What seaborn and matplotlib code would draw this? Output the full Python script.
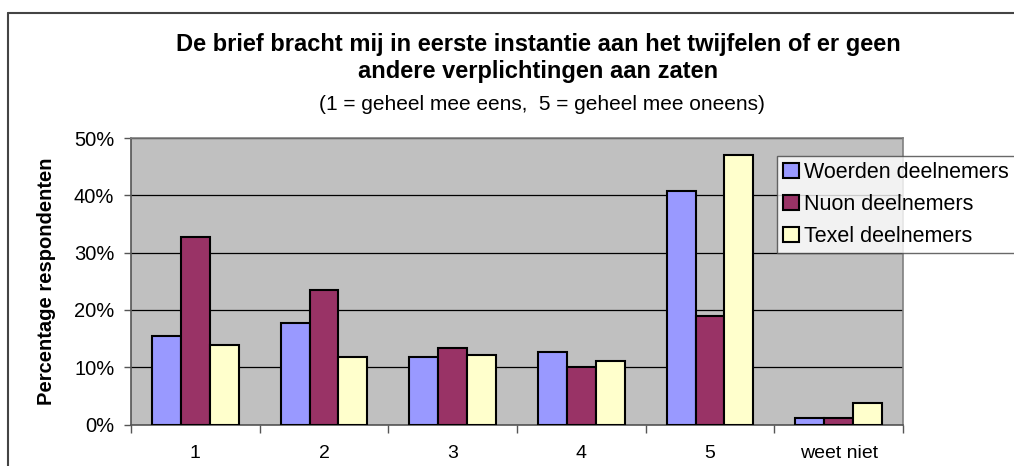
import pandas as pd
import matplotlib
matplotlib.use("Agg")
import matplotlib.pyplot as plt
import seaborn as sns
from matplotlib.ticker import PercentFormatter, FixedLocator

categories = ["1", "2", "3", "4", "5", "weet niet"]
series_names = ["Woerden deelnemers", "Nuon deelnemers", "Texel deelnemers"]
woerden = [15.5, 17.7, 11.7, 12.7, 40.8, 1.2]
nuon = [32.8, 23.5, 13.3, 10.1, 18.9, 1.1]
texel = [13.8, 11.8, 12.1, 11.1, 47.1, 3.7]
colors = ["#9999ff", "#993366", "#ffffcc"]

title = "De brief bracht mij in eerste instantie aan het twijfelen of er geen\nandere verplichtingen aan zaten"
subtitle = "(1 = geheel mee eens,  5 = geheel mee oneens)"

df = pd.DataFrame({
    "categorie": categories * 3,
    "groep": sum([[s] * len(categories) for s in series_names], []),
    "waarde": woerden + nuon + texel,
})

sns.set_theme(style="white")
plt.rcParams["font.family"] = ["Liberation Sans", "DejaVu Sans"]

fig = plt.figure(figsize=(10.14, 4.66), dpi=100)
ax = fig.add_axes([131 / 1014, 1 - 424.5 / 466, (903 - 131) / 1014, (424.5 - 138) / 466])

sns.barplot(data=df, x="categorie", y="waarde", hue="groep", palette=colors,
            width=0.674, edgecolor="black", linewidth=1.5, saturation=1,
            ax=ax, legend=False, zorder=3)

ax.set_facecolor("#c0c0c0")
ax.set_ylim(0, 50)
ax.set_xlim(-0.5, len(categories) - 0.5)
ax.yaxis.set_major_locator(FixedLocator([0, 10, 20, 30, 40, 50]))
ax.yaxis.set_major_formatter(PercentFormatter(decimals=0))
ax.yaxis.grid(True, color="black", linewidth=0.9, zorder=0)
ax.set_axisbelow(True)
for side in ["top", "right"]:
    ax.spines[side].set_color("#808080")
    ax.spines[side].set_linewidth(1.2)
for side in ["left", "bottom"]:
    ax.spines[side].set_color("#555555")
    ax.spines[side].set_linewidth(1.2)

ax.tick_params(axis="y", left=True, length=5, width=1, color="#555555", labelsize=14.5,
               pad=7, labelcolor="black")
ax.tick_params(axis="x", bottom=False, labelsize=14, pad=9, labelcolor="black")
ax.set_xticks(range(len(categories)))
ax.set_xticklabels(categories)
ax.set_xticks([i + 0.5 for i in range(-1, len(categories))], minor=True)
ax.tick_params(axis="x", which="minor", bottom=True, length=6, width=1, color="#555555")
ax.set_xlabel("")
ax.set_ylabel("")
fig.text(47 / 1014, 1 - 281 / 466, "Percentage respondenten", rotation=90, ha="center",
         va="center", fontsize=14.5, fontweight="bold", color="black")

fig.text(538 / 1014, 1 - 58 / 466, title, ha="center", va="center", fontsize=17,
         fontweight="bold", linespacing=1.2, color="black")
fig.text(542 / 1014, 1 - 104 / 466, subtitle, ha="center", va="center", fontsize=15,
         color="black")

handles = [plt.Rectangle((0, 0), 1, 1, facecolor=c, edgecolor="black", linewidth=1.5) for c in colors]
leg = fig.legend(handles, series_names, loc="upper left",
                 bbox_to_anchor=(777 / 1014, 1 - 156 / 466), frameon=True, fontsize=15.5,
                 handlelength=0.7, handleheight=0.7, handletextpad=0.25,
                 borderpad=0.3, labelspacing=0.5, fancybox=False, borderaxespad=0)
leg.get_frame().set_edgecolor("#444444")
leg.get_frame().set_linewidth(1)
for t in leg.get_texts():
    t.set_color("black")

# outer chart frame
fig.add_artist(plt.Line2D([8 / 1014, 8 / 1014], [0, 1 - 12.5 / 466], color="#444444", lw=1.5))
fig.add_artist(plt.Line2D([8 / 1014, 1], [1 - 12.5 / 466, 1 - 12.5 / 466], color="#444444", lw=1.5))

fig.savefig("out.png", dpi=100, facecolor="white")
